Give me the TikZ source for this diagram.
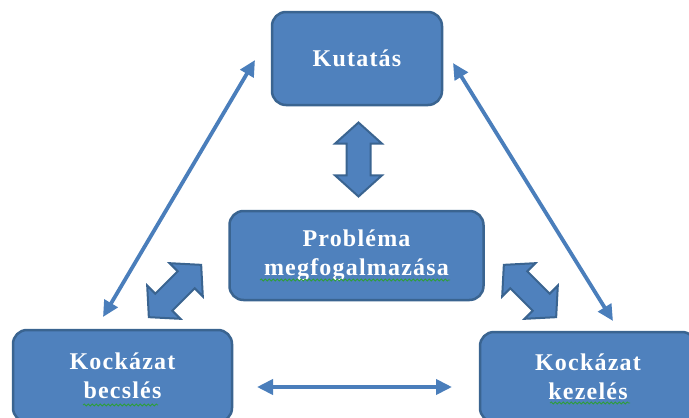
\documentclass[tikz,border=0pt]{standalone}
\usepackage{fontspec}
\newfontfamily\boxfont{Liberation Serif}[LetterSpace=5]
\usetikzlibrary{arrows.meta,shapes.arrows,decorations.pathmorphing}
\definecolor{boxfill}{HTML}{4F81BD}
\definecolor{boxline}{HTML}{3A6490}
\definecolor{arrowblue}{HTML}{4A7EBB}
\definecolor{squiggle}{HTML}{2E9E3A}
\tikzset{
  box/.style={draw=boxline, line width=2.5pt, fill=boxfill, rounded corners=14pt,
    text=white, align=center, inner sep=0pt,
    font=\boxfont\bfseries\fontsize{24}{29}\selectfont},
  thinarrow/.style={draw=arrowblue, line width=3.8pt, line cap=butt,
    arrows={Triangle[length=16pt,width=15pt]-Triangle[length=16pt,width=15pt]}},
  blockarrow/.style={double arrow, draw=boxline, line width=2pt, fill=boxfill,
    minimum height=74pt, inner sep=11pt, double arrow head extend=11.5pt,
    double arrow tip angle=96, double arrow head indent=0pt},
  spell/.style={draw=squiggle, line width=0.8pt,
    decorate, decoration={snake, amplitude=1pt, segment length=4pt}}
}
\begin{document}
\begin{tikzpicture}[x=1pt,y=-1pt]
\useasboundingbox (0,0) rectangle (689,418);
\begin{scope}
\clip (0,0) rectangle (689,418);
% boxes
\node[box, minimum width=170pt, minimum height=93pt] (kut) at (357,58.5) {Kutatás};
\node[box, minimum width=254pt, minimum height=89pt] (prob) at (356.5,255.5) {Probléma\\megfogalmazása};
\node[box, minimum width=219pt, minimum height=92pt] (kb) at (122.5,376) {Kockázat\\becslés};
\node[box, minimum width=216pt, minimum height=90pt] (kk) at (588,377) {Kockázat\\kezelés};
\end{scope}
% spell-check squiggles
\coordinate (s1a) at (260,280); \coordinate (s1b) at (450,280);
\coordinate (s2a) at (83,405);  \coordinate (s2b) at (158,405);
\coordinate (s3a) at (550,403); \coordinate (s3b) at (630,403);
\draw[spell] (s1a) -- (s1b);
\draw[spell] (s2a) -- (s2b);
\draw[spell] (s3a) -- (s3b);
% thin arrows
\coordinate (l1) at (103,317); \coordinate (l2) at (255,60);
\coordinate (r1) at (453,63);  \coordinate (r2) at (613,321);
\coordinate (b1) at (257,387); \coordinate (b2) at (452,387);
\draw[thinarrow] (l1) -- (l2);
\draw[thinarrow] (r1) -- (r2);
\draw[thinarrow] (b1) -- (b2);
% block arrows
\node[blockarrow, rotate=90] (va) at (358.5,159.5) {};
\node[blockarrow, rotate=45] (la) at (175,291) {};
\node[blockarrow, rotate=-45] (ra) at (530,291) {};
\end{tikzpicture}
\end{document}
